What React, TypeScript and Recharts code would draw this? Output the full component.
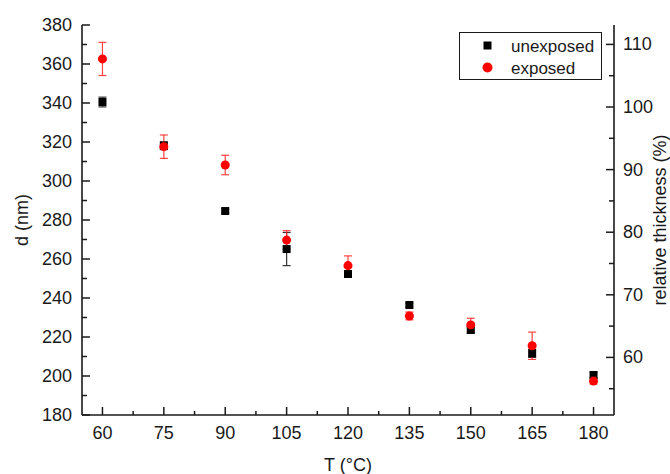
import { ErrorBar, Label, Scatter, ScatterChart, XAxis, YAxis, ZAxis } from "recharts";

const TEMPS = [60, 75, 90, 105, 120, 135, 150, 165, 180];
const UNEXPOSED_D = [340.5, 318.1, 284.6, 265.1, 252.3, 236.4, 223.6, 211.6, 200.5];
const UNEXPOSED_ERR = [2.5, 2, 1, 8.5, 1.5, 1, 1.5, 2, 1.5];
const EXPOSED_D = [362.6, 317.6, 308.2, 269.7, 256.6, 230.8, 226.2, 215.5, 197.4];
const EXPOSED_ERR = [8.5, 6, 5, 4.8, 5, 2, 3.4, 7, 1.5];

const X_TICKS = [60, 75, 90, 105, 120, 135, 150, 165, 180];
const X_MINOR = [67.5, 82.5, 97.5, 112.5, 127.5, 142.5, 157.5, 172.5];
const D_TICKS = [180, 200, 220, 240, 260, 280, 300, 320, 340, 360, 380];
const D_MINOR = [190, 210, 230, 250, 270, 290, 310, 330, 350, 370];
const REL_TICKS = [60, 70, 80, 90, 100, 110];
const REL_MINOR = [55, 65, 75, 85, 95, 105];

const unexposed = TEMPS.map((t, i) => ({ t, d: UNEXPOSED_D[i], err: UNEXPOSED_ERR[i] }));
const exposed = TEMPS.map((t, i) => ({ t, d: EXPOSED_D[i], err: EXPOSED_ERR[i] }));

const INK = "#1a1a1a";
const FONT = "Arial, 'Liberation Sans', sans-serif";
const axisLine = { stroke: INK, strokeWidth: 1.6 };

// ticks point into the plot; minor ticks are shorter and unlabeled
const BottomTick = (props: any) => {
  const { x, y, payload } = props;
  const major = X_TICKS.includes(payload.value);
  return (
    <g>
      <line x1={x} x2={x} y1={y} y2={y - (major ? 8 : 4)} stroke={INK} strokeWidth={1.5} />
      {major && (
        <text x={x} y={y + 18} textAnchor="middle" dominantBaseline="central" fontSize={18} fill={INK} fontFamily={FONT}>
          {payload.value}
        </text>
      )}
    </g>
  );
};

const TopTick = (props: any) => {
  const { x, y, payload } = props;
  const major = X_TICKS.includes(payload.value);
  return <line x1={x} x2={x} y1={y} y2={y + (major ? 4 : 3)} stroke={INK} strokeWidth={1.5} />;
};

const LeftTick = (props: any) => {
  const { x, y, payload } = props;
  const major = D_TICKS.includes(payload.value);
  return (
    <g>
      <line x1={x} x2={x + (major ? 8 : 5)} y1={y} y2={y} stroke={INK} strokeWidth={1.5} />
      {major && (
        <text x={x - 10} y={y} textAnchor="end" dominantBaseline="central" fontSize={18} fill={INK} fontFamily={FONT}>
          {payload.value}
        </text>
      )}
    </g>
  );
};

const RightTick = (props: any) => {
  const { x, y, payload } = props;
  const major = REL_TICKS.includes(payload.value);
  return (
    <g>
      <line x1={x} x2={x - (major ? 8 : 5)} y1={y} y2={y} stroke={INK} strokeWidth={1.5} />
      {major && (
        <text x={x + 9} y={y} textAnchor="start" dominantBaseline="central" fontSize={18} fill={INK} fontFamily={FONT}>
          {payload.value}
        </text>
      )}
    </g>
  );
};

function LegendBox() {
  return (
    <div
      style={{
        position: "absolute",
        left: 459,
        top: 32,
        width: 141,
        height: 46,
        border: `1px solid ${INK}`,
        background: "#fff",
      }}
    >
      <svg width={141} height={46} style={{ position: "absolute", left: 0, top: 0 }}>
        <rect x={23.5} y={8.5} width={8} height={8} fill="#000" />
        <circle cx={27.5} cy={34.5} r={5} fill="#ff0000" />
        <text x={51} y={13} dominantBaseline="central" fontSize={17} fill={INK} fontFamily={FONT}>
          unexposed
        </text>
        <text x={51} y={35} dominantBaseline="central" fontSize={17} fill={INK} fontFamily={FONT}>
          exposed
        </text>
      </svg>
    </div>
  );
}

export default function App() {
  return (
    <div style={{ position: "absolute", left: 0, top: 0, width: 670, height: 474, background: "#fff" }}>
      <ScatterChart width={670} height={474} margin={{ top: 25, right: 0, bottom: 0, left: 0 }}>
        <XAxis
          dataKey="t"
          type="number"
          domain={[55, 185]}
          allowDataOverflow
          ticks={[...X_TICKS, ...X_MINOR]}
          interval={0}
          tick={<BottomTick />}
          tickLine={false}
          tickSize={0}
          tickMargin={0}
          axisLine={axisLine}
          height={59}
        >
          <Label
            content={({ viewBox }: any) => (
              <text x={viewBox.x + viewBox.width / 2} y={465} textAnchor="middle" dominantBaseline="central" fontSize={18} fill={INK} fontFamily={FONT}>
                T (°C)
              </text>
            )}
          />
        </XAxis>
        <XAxis
          xAxisId="top"
          orientation="top"
          type="number"
          domain={[55, 185]}
          allowDataOverflow
          ticks={[...X_TICKS, ...X_MINOR]}
          interval={0}
          tick={<TopTick />}
          tickLine={false}
          tickSize={0}
          tickMargin={0}
          axisLine={axisLine}
          height={0}
        />
        <YAxis
          dataKey="d"
          type="number"
          domain={[180, 380]}
          allowDataOverflow
          ticks={[...D_TICKS, ...D_MINOR]}
          interval={0}
          tick={<LeftTick />}
          tickLine={false}
          tickSize={0}
          tickMargin={0}
          axisLine={axisLine}
          width={82}
        >
          <Label
            content={({ viewBox }: any) => (
              <text
                x={22}
                y={viewBox.y + viewBox.height / 2}
                transform={`rotate(-90 22 ${viewBox.y + viewBox.height / 2})`}
                textAnchor="middle"
                dominantBaseline="central"
                fontSize={18}
                fill={INK}
                fontFamily={FONT}
              >
                d (nm)
              </text>
            )}
          />
        </YAxis>
        <YAxis
          yAxisId="right"
          orientation="right"
          type="number"
          domain={[50.8, 113.1]}
          allowDataOverflow
          ticks={[...REL_TICKS, ...REL_MINOR]}
          interval={0}
          tick={<RightTick />}
          tickLine={false}
          tickSize={0}
          tickMargin={0}
          axisLine={axisLine}
          width={56}
        >
          <Label
            content={({ viewBox }: any) => (
              <text
                x={660}
                y={viewBox.y + viewBox.height / 2}
                transform={`rotate(-90 660 ${viewBox.y + viewBox.height / 2})`}
                textAnchor="middle"
                dominantBaseline="central"
                fontSize={18}
                fill={INK}
                fontFamily={FONT}
              >
                relative thickness (%)
              </text>
            )}
          />
        </YAxis>
        <ZAxis range={[85, 85]} />
        <Scatter name="unexposed" data={unexposed} shape="square" fill="#000" legendType="square" isAnimationActive={false}>
          <ErrorBar dataKey="err" direction="y" width={4} stroke="#333" strokeWidth={1.2} isAnimationActive={false} />
        </Scatter>
        <Scatter name="exposed" data={exposed} shape="circle" fill="#ff0000" legendType="circle" isAnimationActive={false}>
          <ErrorBar dataKey="err" direction="y" width={4} stroke="#f22" strokeWidth={1.2} strokeOpacity={0.85} isAnimationActive={false} />
        </Scatter>
      </ScatterChart>
      <LegendBox />
    </div>
  );
}
